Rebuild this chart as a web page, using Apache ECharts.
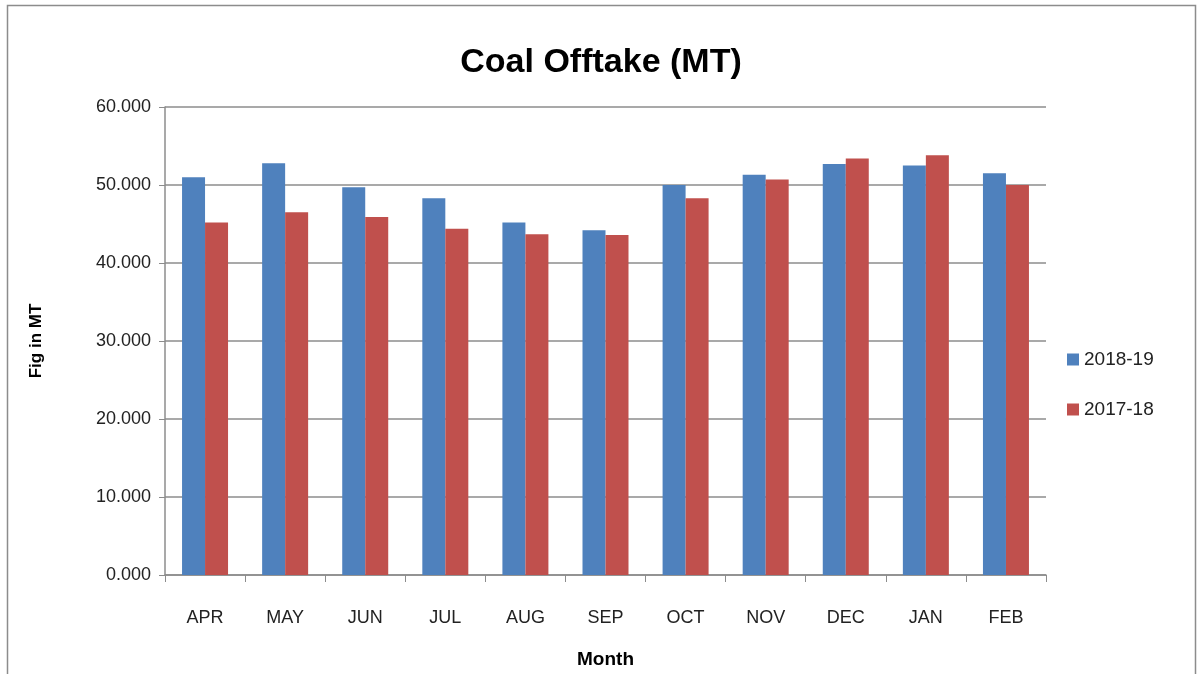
<!DOCTYPE html>
<html>
<head>
<meta charset="utf-8">
<script src="https://cdn.jsdelivr.net/npm/echarts@6/dist/echarts.min.js"></script>
<style>
html,body{margin:0;padding:0;background:#fff;}
#chart{width:1202px;height:674px;}
</style>
</head>
<body>
<div id="chart"></div>
<script>
const categories = ['APR','MAY','JUN','JUL','AUG','SEP','OCT','NOV','DEC','JAN','FEB'];
const series2018 = [51.0, 52.8, 49.7, 48.3, 45.2, 44.2, 50.0, 51.3, 52.7, 52.5, 51.5];
const series2017 = [45.2, 46.5, 45.9, 44.4, 43.7, 43.6, 48.3, 50.7, 53.4, 53.8, 50.0];
const seriesNames = ['2018-19', '2017-18'];
const yTicks = {min: 0, max: 60, interval: 10};

const chart = echarts.init(document.getElementById('chart'));
const font = '"Liberation Sans", "Open Sans", sans-serif';
chart.setOption({
  animation: false,
  backgroundColor: '#fff',
  title: {
    text: 'Coal Offtake (MT)',
    left: 'center',
    top: 41,
    textStyle: {fontFamily: font, fontSize: 34, fontWeight: 'bold', color: '#000'}
  },
  graphic: [{
    type: 'rect',
    shape: {x: 7.5, y: 5.5, width: 1188, height: 680},
    style: {fill: 'none', stroke: '#8c8c8c', lineWidth: 1.5},
    silent: true
  }],
  legend: {
    orient: 'vertical',
    left: 1062,
    top: 345,
    itemWidth: 12,
    itemHeight: 12,
    itemGap: 31,
    icon: 'rect',
    textStyle: {fontFamily: font, fontSize: 19, color: '#222'},
    data: seriesNames
  },
  grid: {left: 165, right: 156, top: 107, bottom: 97},
  xAxis: {
    type: 'category',
    data: categories,
    name: 'Month',
    nameLocation: 'middle',
    nameGap: 75,
    nameTextStyle: {fontFamily: font, fontSize: 19, fontWeight: 'bold', color: '#000'},
    axisLine: {lineStyle: {color: '#8c8c8c', width: 1.5}},
    axisTick: {show: true, length: 7, lineStyle: {color: '#8c8c8c'}},
    axisLabel: {fontFamily: font, fontSize: 18, color: '#222', margin: 34}
  },
  yAxis: {
    type: 'value',
    min: yTicks.min,
    max: yTicks.max,
    interval: yTicks.interval,
    name: 'Fig in MT',
    nameLocation: 'middle',
    nameGap: 120,
    nameTextStyle: {fontFamily: font, fontSize: 17, fontWeight: 'bold', color: '#000'},
    axisLine: {show: true, lineStyle: {color: '#8c8c8c', width: 1.5}},
    axisTick: {show: true, length: 6, lineStyle: {color: '#8c8c8c'}},
    splitLine: {lineStyle: {color: '#8c8c8c', width: 1.5}},
    axisLabel: {fontFamily: font, fontSize: 18, color: '#222', margin: 14,
      formatter: v => v.toFixed(3)}
  },
  series: [
    {name: seriesNames[0], type: 'bar', data: series2018, barWidth: 23, barGap: '0%',
     itemStyle: {color: '#4F81BD'}},
    {name: seriesNames[1], type: 'bar', data: series2017, barWidth: 23, barGap: '0%',
     itemStyle: {color: '#C0504D'}}
  ]
});
</script>
</body>
</html>
